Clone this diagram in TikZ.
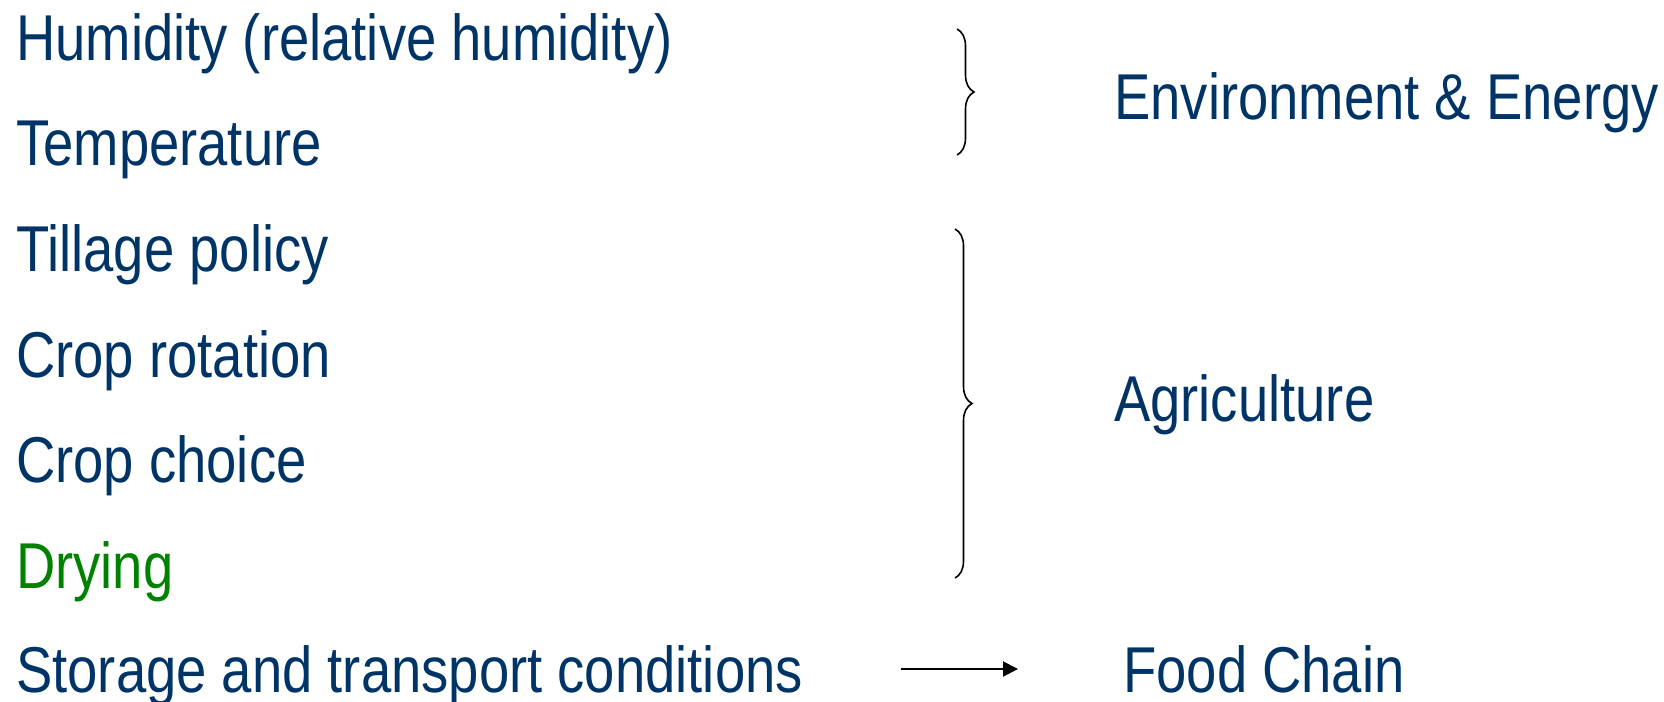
\documentclass[tikz,border=0pt]{standalone}
\usepackage{fontspec}
\setmainfont[FakeStretch=0.84]{Liberation Sans}
\usetikzlibrary{arrows.meta,decorations.pathreplacing}
\definecolor{navy}{RGB}{0,52,102}
\definecolor{drygreen}{RGB}{0,130,0}
\begin{document}
\begin{tikzpicture}[x=1pt,y=-1pt,
  item/.style={anchor=base west,inner sep=0pt,text=navy,
    font=\fontsize{64.8}{72}\selectfont},
  group/.style={draw=black,line width=1.6pt,decorate,
    decoration={brace,amplitude=17pt}},
  link/.style={draw=black,line width=2pt,-{Triangle[length=15pt,width=15pt]}}]
\useasboundingbox (0,0) rectangle (1664,701);

% factors on the left
\node[item] (hum)   at (16,60)  {Humidity (relative humidity)};
\node[item] (temp)  at (16,165) {Temperature};
\node[item] (till)  at (16,271) {Tillage policy};
\node[item] (rot)   at (16,377) {Crop rotation};
\node[item] (choice) at (16,482) {Crop choice};
\node[item,text=drygreen] (dry) at (16,588) {Drying};
\node[item] (store) at (16,692) {Storage and transport conditions};

% groups on the right
\node[item] (env)  at (1114,119) {Environment \& Energy};
\node[item] (agri) at (1114,421) {Agriculture};
\node[item] (food) at (1123,692) {Food Chain};

% braces gathering the factors
\coordinate (envtop) at (957,29);
\coordinate (envbot) at (957,155);
\coordinate (agritop) at (955,229);
\coordinate (agribot) at (955,578);
\draw[group] (envtop) -- (envbot);
\draw[group] (agritop) -- (agribot);

% arrow to the food chain
\coordinate (arrowtail) at (901,669);
\coordinate (arrowtip) at (1018,669);
\draw[link] (arrowtail) -- (arrowtip);
\end{tikzpicture}
\end{document}
